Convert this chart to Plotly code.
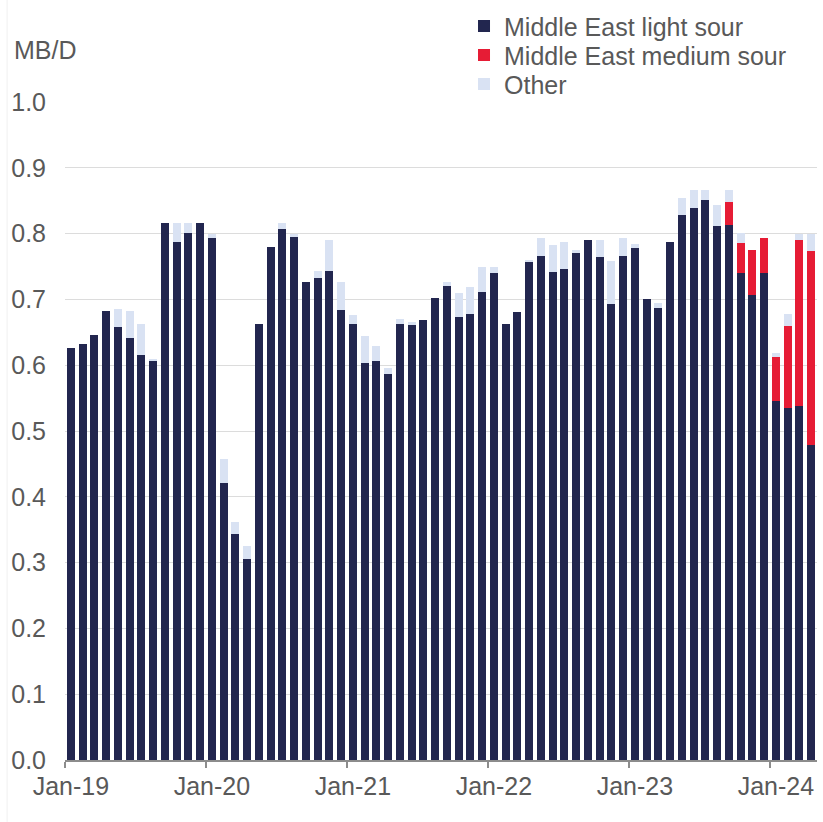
import plotly.graph_objects as go
import pandas as pd

# Monthly, Jan-2019 .. Apr-2024 (MB/D)
months = [p.strftime("%b-%y") for p in pd.period_range("2019-01", "2024-04", freq="M")]

light_sour = [
    0.626, 0.632, 0.646, 0.682, 0.658, 0.641, 0.615, 0.607, 0.816, 0.787, 0.801, 0.816,  # 2019
    0.794, 0.421, 0.343, 0.306, 0.663, 0.780, 0.807, 0.795, 0.726, 0.733, 0.743, 0.684,  # 2020
    0.663, 0.604, 0.606, 0.587, 0.662, 0.661, 0.669, 0.702, 0.721, 0.673, 0.678, 0.711,  # 2021
    0.740, 0.663, 0.681, 0.758, 0.766, 0.741, 0.746, 0.771, 0.791, 0.764, 0.693, 0.766,  # 2022
    0.778, 0.701, 0.687, 0.788, 0.828, 0.839, 0.851, 0.812, 0.813, 0.740, 0.707, 0.740,  # 2023
    0.546, 0.535, 0.538, 0.479,                                                          # 2024
]
medium_sour = [
    0, 0, 0, 0, 0, 0, 0, 0, 0, 0, 0, 0,
    0, 0, 0, 0, 0, 0, 0, 0, 0, 0, 0, 0,
    0, 0, 0, 0, 0, 0, 0, 0, 0, 0, 0, 0,
    0, 0, 0, 0, 0, 0, 0, 0, 0, 0, 0, 0,
    0, 0, 0, 0, 0, 0, 0, 0, 0.035, 0.045, 0.068, 0.053,
    0.066, 0.125, 0.252, 0.295,
]
other = [
    0, 0, 0, 0, 0.027, 0.042, 0.048, 0.002, 0, 0.029, 0.015, 0,
    0.005, 0.036, 0.018, 0.019, 0, 0, 0.009, 0.005, 0, 0.010, 0.048, 0.042,
    0.014, 0.041, 0.023, 0.009, 0.008, 0.005, 0, 0, 0.005, 0.037, 0.041, 0.039,
    0.009, 0, 0, 0.002, 0.027, 0.041, 0.041, 0.004, 0, 0.027, 0.066, 0.027,
    0.006, 0, 0.007, 0, 0.026, 0.027, 0.015, 0.032, 0.018, 0.016, 0, 0,
    0.006, 0.018, 0.010, 0.026,
]

tick_labels = ["Jan-19", "Jan-20", "Jan-21", "Jan-22", "Jan-23", "Jan-24"]
y_ticks = [0.0, 0.1, 0.2, 0.3, 0.4, 0.5, 0.6, 0.7, 0.8, 0.9, 1.0]

series_names = ["Middle East light sour", "Middle East medium sour", "Other"]
series_colors = ["#22264f", "#e61c35", "#d9e2f3"]
legend_ids = ["legend", "legend2", "legend3"]
legend_y = [1.115, 1.071, 1.027]

x_pos = list(range(len(months)))
label_pos = [months.index(t) for t in tick_labels]
boundary_pos = [p - 0.5 for p in label_pos]

FONT = "Liberation Sans, Arial, sans-serif"
TXT = "#595959"
FS = 25

fig = go.Figure()
for name, vals, col, lg in zip(series_names, [light_sour, medium_sour, other], series_colors, legend_ids):
    fig.add_trace(go.Bar(
        x=x_pos, y=vals, name=name, customdata=months, legend=lg, showlegend=True,
        marker=dict(color=col, line=dict(width=0)),
        hovertemplate="%{customdata}: %{y:.3f}<extra>" + name + "</extra>",
    ))

legend_common = dict(x=0.5306, xanchor="left", yanchor="middle", visible=True,
                     bgcolor="rgba(0,0,0,0)", font=dict(size=FS, color=TXT, family=FONT))

fig.update_layout(
    width=823, height=822,
    margin=dict(l=65, r=6, t=102, b=62, autoexpand=False),
    barmode="stack", bargap=0.32, showlegend=True,
    plot_bgcolor="white", paper_bgcolor="white",
    font=dict(family=FONT, size=FS, color=TXT),
    legend=dict(y=legend_y[0], **legend_common),
    legend2=dict(y=legend_y[1], **legend_common),
    legend3=dict(y=legend_y[2], **legend_common),
    xaxis=dict(
        range=[-0.5, len(months) - 0.5],
        tickmode="array", tickvals=label_pos, ticktext=tick_labels,
        ticks="", showgrid=False, zeroline=False, automargin=False,
        showline=True, linecolor="#8c8c8c", linewidth=1.5,
        ticklabelstandoff=3,
        minor=dict(tickmode="array", tickvals=boundary_pos, ticks="outside",
                   ticklen=6, tickwidth=1.5, tickcolor="#8c8c8c", showgrid=False),
    ),
    yaxis=dict(
        range=[0, 1.0], tickmode="array", tickvals=y_ticks, tickformat=".1f",
        showgrid=True, gridcolor="#dcdcdc", gridwidth=1.3, automargin=False,
        zeroline=False, showline=False, ticks="", ticklabelstandoff=18,
    ),
    annotations=[dict(
        text="MB/D", xref="paper", yref="paper", x=-0.071, y=1.079,
        xanchor="left", yanchor="middle", showarrow=False,
        font=dict(size=FS, color=TXT, family=FONT),
    )],
    shapes=[dict(type="line", xref="paper", yref="paper",
                 x0=-0.077, x1=-0.077, y0=-0.094, y1=1.155,
                 line=dict(color="#f0f0f0", width=1))],
)

fig.write_html("out.html", config={"displayModeBar": False},
               post_script="document.body.style.margin='0';")
